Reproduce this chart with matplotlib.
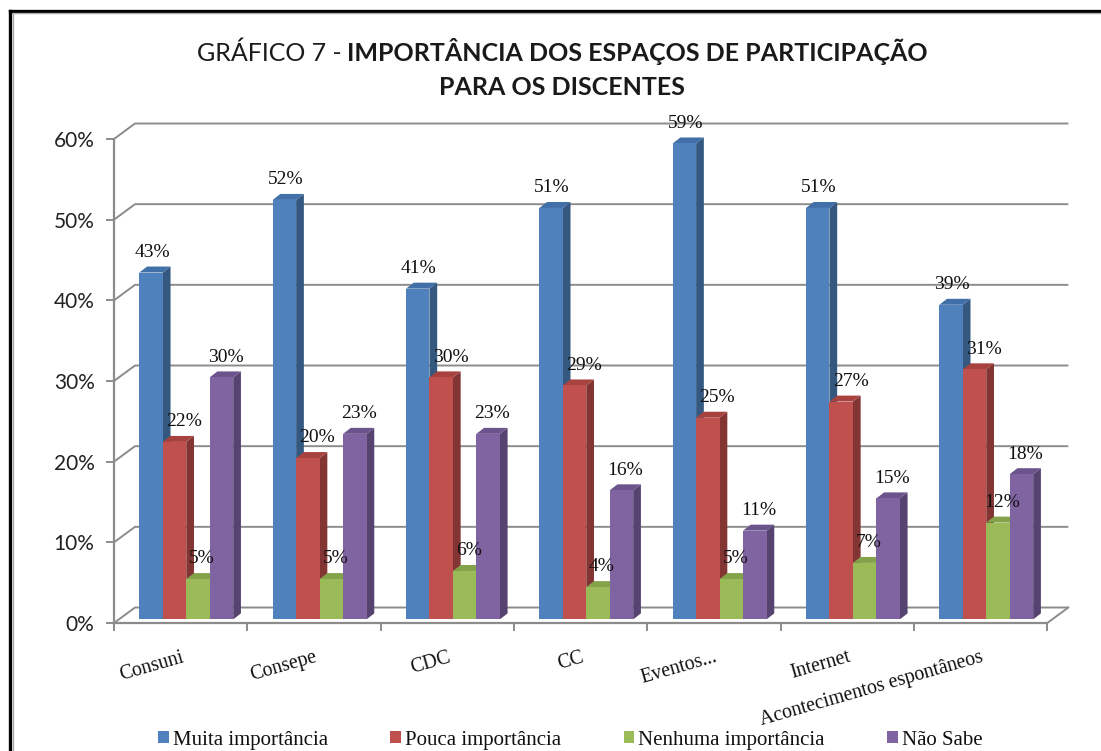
"""Gráfico 7 - importância dos espaços de participação (colunas 3D estilo Excel)"""
import numpy as np
import matplotlib
matplotlib.use('Agg')
import matplotlib.pyplot as plt
from matplotlib.patches import Polygon, Patch
from matplotlib.offsetbox import TextArea, HPacker, VPacker, AnnotationBbox

categorias = ['Consuni', 'Consepe', 'CDC', 'CC', 'Eventos...', 'Internet',
              'Acontecimentos espontâneos']
series = ['Muita importância', 'Pouca importância', 'Nenhuma importância', 'Não Sabe']
muita = [43, 52, 41, 51, 59, 51, 39]
pouca = [22, 20, 30, 29, 25, 27, 31]
nenhuma = [5, 5, 6, 4, 5, 7, 12]
nao_sabe = [30, 23, 23, 16, 11, 15, 18]
y_ticks = [0, 10, 20, 30, 40, 50, 60]
y_labels = ['0%', '10%', '20%', '30%', '40%', '50%', '60%']

valores = [muita, pouca, nenhuma, nao_sabe]
cor_frente = ['#4F81BD', '#C0504D', '#9BBB59', '#8064A2']
cor_topo = ['#4170A8', '#A8423F', '#83A24A', '#6B538C']
cor_lado = ['#34587F', '#823533', '#6C853E', '#564370']
desloc_rot = [0.008, 0.07, 0.03, 0.03]   # deslocamento horizontal dos rótulos

GRID = '#8C8C8C'
SERIF = 'Liberation Serif'
SANS = 'Lato'

fig = plt.figure(figsize=(11.01, 7.51), dpi=100)
ax = fig.add_axes([114 / 1101, 1 - 623 / 751, 933.3 / 1101, 484 / 751])
ax.set_xlim(0, 7); ax.set_ylim(0, 60)
ax.patch.set_visible(False)

# profundidade da parede e das barras (em unidades de dados)
wdx, wdy = 0.1575, 1.92
bdx, bdy = 0.058, 0.74
sx, sy = 0.042, 0.45
w = 0.176

# ---- paredes / grade ----
for v in y_ticks:
    ax.plot([0, wdx, 7 + wdx], [v, v + wdy, v + wdy], color=GRID, lw=1.4,
            clip_on=False, zorder=1, solid_capstyle='butt')
ax.plot([7, 7 + wdx], [0, wdy], color=GRID, lw=1.4, clip_on=False, zorder=1)

for s in ['top', 'right']:
    ax.spines[s].set_visible(False)
for s in ['left', 'bottom']:
    ax.spines[s].set_color(GRID)
    ax.spines[s].set_linewidth(1.6)

ax.set_yticks(y_ticks)
ax.set_yticklabels(y_labels, fontfamily=SANS, fontsize=15, color='#222222')
ax.tick_params(axis='y', direction='out', length=6, color=GRID, width=1.4, pad=8)

ax.set_xticks(np.arange(0, 8))
ax.set_xticklabels([])
ax.tick_params(axis='x', which='major', direction='out', length=6, color=GRID, width=1.4)
centros = np.arange(len(categorias)) + 0.5
ax.set_xticks(centros, minor=True)
ax.set_xticklabels(categorias, minor=True, fontfamily=SERIF, fontsize=14.3, color='#111111')
ax.tick_params(axis='x', which='minor', length=0, pad=18)
plt.setp(ax.get_xticklabels(minor=True), rotation=16, ha='right', va='top',
         rotation_mode='anchor')

# ---- barras ----
for j, vals in enumerate(valores):
    xs = centros + (j - 1.5) * w + sx
    bars = ax.bar(xs, vals, width=w, bottom=sy, color=cor_frente[j],
                  edgecolor='none', zorder=3 + 2 * j)
    for b, v in zip(bars, vals):
        b.set_clip_on(False)
        x0 = b.get_x(); x1 = x0 + w; top = v + sy
        lado = Polygon([(x1, sy), (x1 + bdx, sy + bdy), (x1 + bdx, top + bdy), (x1, top)],
                       closed=True, facecolor=cor_lado[j], edgecolor='none',
                       zorder=2 + 2 * j, clip_on=False)
        topo = Polygon([(x0, top), (x0 + bdx, top + bdy), (x1 + bdx, top + bdy), (x1, top)],
                       closed=True, facecolor=cor_topo[j], edgecolor='none',
                       zorder=2 + 2 * j, clip_on=False)
        ax.add_patch(lado); ax.add_patch(topo)
        ax.text(x0 + w / 2 + desloc_rot[j], top + 2.5, f'{v}%', ha='center', va='center',
                fontfamily=SERIF, fontsize=14, color='#111111', zorder=20, clip_on=False)

# ---- legenda ----
handles = [Patch(facecolor=c, edgecolor='none', label=s) for c, s in zip(cor_frente, series)]
leg = fig.legend(handles=handles, loc='center', bbox_to_anchor=(0.518, 0.0145), ncol=4,
                 frameon=False, fontsize=15, handlelength=0.5, handleheight=0.5,
                 handletextpad=0.2, columnspacing=3.0)
for t in leg.get_texts():
    t.set_fontfamily(SERIF)
    t.set_color('#111111')

# ---- título ----
reg = TextArea('GRÁFICO 7 -', textprops=dict(fontfamily=SANS, fontsize=18, color='#1a1a1a'))
neg = TextArea('IMPORTÂNCIA DOS ESPAÇOS DE PARTICIPAÇÃO',
               textprops=dict(fontfamily=SANS, fontsize=18, fontweight='bold', color='#1a1a1a'))
linha1 = HPacker(children=[reg, neg], sep=4, pad=0, align='baseline')
linha2 = TextArea('PARA OS DISCENTES',
                  textprops=dict(fontfamily=SANS, fontsize=18, fontweight='bold', color='#1a1a1a'))
bloco = VPacker(children=[linha1, linha2], sep=8, pad=0, align='center')
fig.add_artist(AnnotationBbox(bloco, (0.5105, 0.909), xycoords='figure fraction',
                              frameon=False, box_alignment=(0.5, 0.5)))

# ---- moldura ----
fig.add_artist(plt.Line2D([0.0095, 1], [0.9853, 0.9853], transform=fig.transFigure,
                          color='black', lw=2.4))
fig.add_artist(plt.Line2D([0.0095, 0.0095], [0, 0.9853], transform=fig.transFigure,
                          color='black', lw=2.4))
fig.add_artist(plt.Line2D([0.0125, 1], [0.9825, 0.9825], transform=fig.transFigure,
                          color='#aaaaaa', lw=1))
fig.add_artist(plt.Line2D([0.0122, 0.0122], [0, 0.9825], transform=fig.transFigure,
                          color='#aaaaaa', lw=1))

fig.savefig('out.png', dpi=100)
